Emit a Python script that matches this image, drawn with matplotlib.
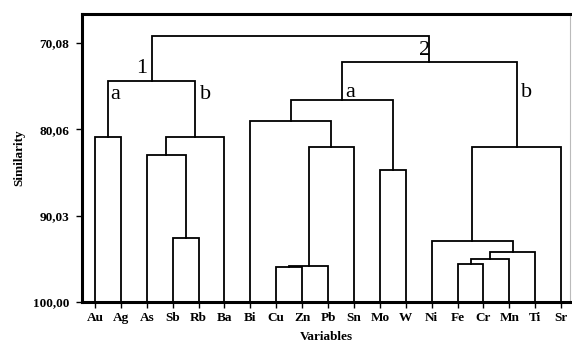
import matplotlib
matplotlib.use("Agg")
import matplotlib.pyplot as plt

plt.rcParams['font.family'] = ['Liberation Serif', 'DejaVu Serif']

leaves = ['Au', 'Ag', 'As', 'Sb', 'Rb', 'Ba', 'Bi', 'Cu', 'Zn', 'Pb',
          'Sn', 'Mo', 'W', 'Ni', 'Fe', 'Cr', 'Mn', 'Ti', 'Sr']

# merges in order, new cluster ids start at len(leaves)
merge_left = [0, 3, 2, 21, 19, 7, 24, 25, 6, 11, 27, 14, 30, 31, 13, 33, 29, 23]
merge_right = [1, 4, 20, 5, 22, 8, 9, 10, 26, 12, 28, 15, 16, 17, 32, 18, 34, 35]
merge_height = [80.94, 92.61, 83.02, 80.90, 74.47, 95.96, 95.80, 82.10, 79.09,
                84.75, 76.67, 95.61, 95.03, 94.22, 92.95, 82.10, 72.28, 69.27]

yticks = [70.08, 80.06, 90.03, 100.00]
ytick_labels = ['70,08', '80,06', '90,03', '100,00']

group_labels = ['1', 'a', 'b', '2', 'a', 'b']
group_x = [1.81, 0.77, 4.25, 12.74, 9.85, 16.68]
group_y = [72.97, 75.98, 75.98, 70.89, 75.75, 75.75]

fig = plt.figure(figsize=(5.72, 3.43), dpi=100)
ax = fig.add_axes([0.1434, 0.1195, 0.8531, 0.8395])

pos = {i: float(i) for i in range(len(leaves))}
hgt = {i: 100.0 for i in range(len(leaves))}
for k in range(len(merge_left)):
    a = merge_left[k]
    b = merge_right[k]
    h = merge_height[k]
    xa, xb = pos[a], pos[b]
    ax.plot([xa, xa, xb, xb], [hgt[a], h, h, hgt[b]], color='black', lw=1.3,
            solid_joinstyle='miter')
    nid = len(leaves) + k
    pos[nid] = (xa + xb) / 2
    hgt[nid] = h

for t, x, y in zip(group_labels, group_x, group_y):
    ax.text(x, y, t, fontsize=16, ha='center', va='center')

ax.set_xlim(-0.5, 18.34)
ax.set_ylim(100, 66.73)
ax.set_xticks(range(len(leaves)))
ax.set_xticklabels(leaves, fontsize=9.5, fontweight='bold')
ax.set_yticks(yticks)
ax.set_yticklabels(ytick_labels, fontsize=9.5, fontweight='bold')
ax.tick_params(direction='out', length=4, width=1)
ax.tick_params(axis='x', pad=3)
ax.tick_params(axis='y', pad=5)
for s in ['left', 'top', 'bottom']:
    ax.spines[s].set_linewidth(2.2)
ax.spines['right'].set_linewidth(0.8)
ax.spines['right'].set_color('#bbbbbb')
ax.set_ylabel('Similarity', fontsize=9.5, fontweight='bold', labelpad=6)
ax.set_xlabel('Variables', fontsize=9.5, fontweight='bold', labelpad=5)

fig.savefig('out.png', dpi=100)
